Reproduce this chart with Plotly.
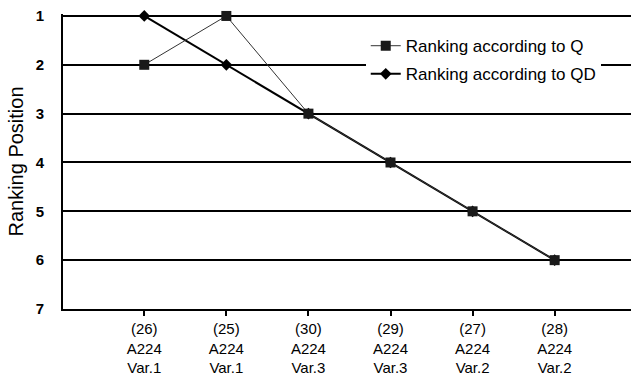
import plotly.graph_objects as go

categories = ["(26)<br>A224<br>Var.1", "(25)<br>A224<br>Var.1", "(30)<br>A224<br>Var.3",
              "(29)<br>A224<br>Var.3", "(27)<br>A224<br>Var.2", "(28)<br>A224<br>Var.2"]
rank_q = [2, 1, 3, 4, 5, 6]
rank_qd = [1, 2, 3, 4, 5, 6]
y_ticks = [1, 2, 3, 4, 5, 6, 7]

xi = list(range(len(categories)))

fig = go.Figure()
fig.add_trace(go.Scatter(
    x=xi, y=rank_qd, mode="lines+markers", name="Ranking according to QD",
    line=dict(color="black", width=2),
    marker=dict(symbol="diamond", size=9, color="black"),
    legendrank=2, legendgroup="qd", cliponaxis=False))
fig.add_trace(go.Scatter(
    x=xi, y=rank_q, mode="lines+markers", name="Ranking according to Q",
    line=dict(color="#333333", width=1),
    marker=dict(symbol="square", size=10, color="#1a1a1a"),
    legendrank=1, legendgroup="q", cliponaxis=False))

fig.update_layout(
    width=631, height=381,
    margin=dict(l=63, r=0, t=14, b=72),
    plot_bgcolor="white", paper_bgcolor="white",
    font=dict(family="Liberation Sans, Arial, sans-serif", color="black", size=15),
    showlegend=True,
    legend=dict(x=0.533, y=0.952, xanchor="left", yanchor="top",
                bgcolor="white", borderwidth=0,
                font=dict(size=17), tracegroupgap=3, itemwidth=30),
    xaxis=dict(
        tickmode="array", tickvals=xi, ticktext=categories,
        range=[-0.99, 5.93], showgrid=False, zeroline=False,
        showline=True, linecolor="black", linewidth=2,
        ticks="outside", ticklen=5, tickwidth=2, tickcolor="black",
        tickfont=dict(size=15), automargin=False),
    yaxis=dict(
        autorange=False, range=[7, 0.96],
        tickmode="array", tickvals=y_ticks,
        ticktext=[f"<b>{v}</b>" for v in y_ticks],
        showgrid=True, gridcolor="black", gridwidth=2, zeroline=False,
        showline=True, linecolor="black", linewidth=2,
        ticks="", ticklabelstandoff=14,
        tickfont=dict(size=15), automargin=False,
        title=dict(text="Ranking Position", font=dict(size=20), standoff=7)),
)

fig.write_html("out.html", config={"displayModeBar": False},
               post_script="document.body.style.margin='0';")
